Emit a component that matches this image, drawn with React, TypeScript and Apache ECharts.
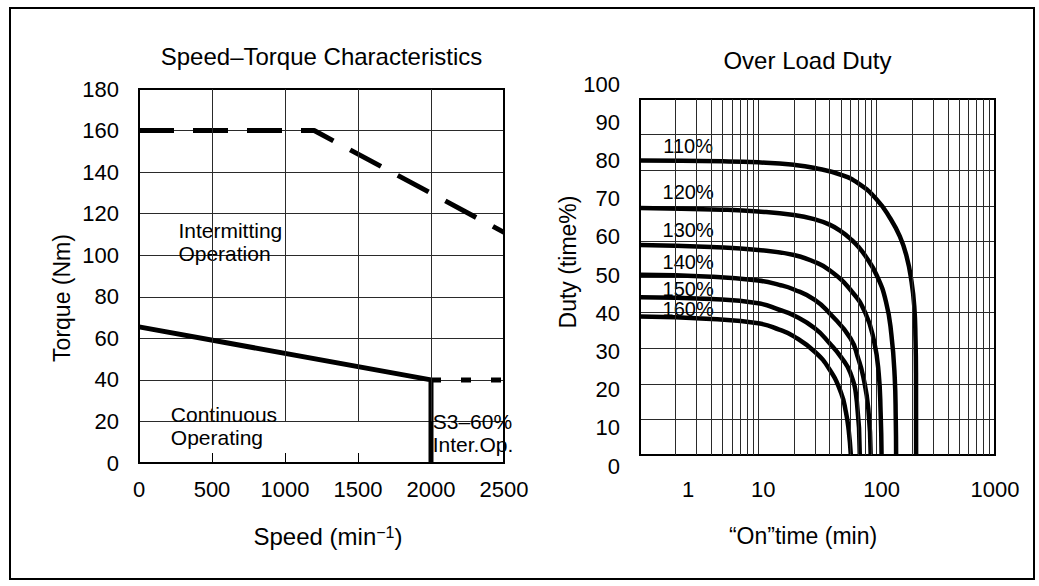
import React, { useEffect, useRef } from 'react';
import * as echarts from 'echarts';

const FONT = "'Liberation Sans', Arial, Helvetica, sans-serif";

// ---------- Speed–Torque Characteristics ----------
const speedMin = 0;
const speedMax = 2500;
const speedStep = 500;
const torqueMin = 0;
const torqueMax = 180;
const torqueStep = 20;

const intermittentSpeed = [0, 1200, 2500];
const intermittentTorque = [160, 160, 111];
const continuousSpeed = [0, 2000, 2000];
const continuousTorque = [65.5, 40, 0];
const s3Speed = [2000, 2500];
const s3Torque = [40, 40];

const speedGridValues = [500, 1000, 1500, 2000];
const speedGridFromTorque = 20;

const regionTexts = ['Intermitting\nOperation', 'Continuous\nOperating', 'S3–60%\nInter.Op.'];
const regionSpeed = [270, 218, 2012];
const regionTorque = [106.6, 17.6, 14.4];

// ---------- Over Load Duty ----------
const onTimeMin = 1;
const onTimeMax = 1000;
const dutyMin = 0;
const dutyMax = 100;
const dutyStep = 10;

const curveNames = ['110%', '120%', '130%', '140%', '150%', '160%'];
const onTime110 = [1, 5, 10, 20, 30, 50, 70, 100, 130, 157, 179, 196, 208, 213, 215, 215.5];
const duty110 = [82.7, 82.5, 82.2, 81.5, 80.6, 78.7, 76.3, 71.8, 66.5, 61.4, 55.8, 49.2, 41.7, 32.3, 23, 0];
const onTime120 = [1, 5, 10, 20, 30, 40, 50, 60, 70, 80, 100, 120, 133, 142, 145, 146];
const duty120 = [69.4, 68.9, 68.4, 67.4, 66.2, 64.7, 62.8, 60.7, 58.5, 56, 50.5, 43, 34, 22, 10, 0];
const onTime130 = [1, 4, 10, 20, 30, 40, 60, 80, 95, 104, 108, 110];
const duty130 = [59, 58.4, 57.6, 56.2, 54.2, 51.9, 46.4, 40, 32, 23, 12, 0];
const onTime140 = [1, 4, 10, 15, 20, 30, 40, 60, 70, 77, 85, 89];
const duty140 = [50.6, 50.1, 49, 47.8, 46.5, 43.6, 39.8, 32.8, 27, 22, 13, 0];
const onTime150 = [1, 4, 10, 15, 20, 30, 40, 50, 60, 68, 72];
const duty150 = [44.3, 43.8, 42.6, 40.8, 39.2, 35.6, 31.4, 27.5, 23, 15, 0];
const onTime160 = [1, 4, 10, 15, 20, 30, 40, 50, 55, 58, 60.5];
const duty160 = [38.9, 38.2, 37, 35.2, 33.3, 29, 24, 17.5, 12, 7, 0];

const curveOnTimes = [onTime110, onTime120, onTime130, onTime140, onTime150, onTime160];
const curveDuties = [duty110, duty120, duty130, duty140, duty150, duty160];

const curveLabelOnTime = [2.55, 2.55, 2.55, 2.55, 2.55, 2.55];
const curveLabelDuty = [86.7, 74.0, 63.3, 54.3, 46.6, 41.0];

const onTimeDecades = [1, 10, 100];
const onTimeMinorSteps = [2, 3, 4, 5, 6, 7, 8, 9];

const zip = (xs: number[], ys: number[]) => xs.map((x, i) => [x, ys[i]]);

const gridLineColor = '#2a2a2a';

export default function App() {
  const ref = useRef<HTMLDivElement>(null);

  useEffect(() => {
    if (!ref.current) return;
    const chart = echarts.init(ref.current, undefined, { renderer: 'svg' });

    const minorLines: number[] = [];
    onTimeDecades.forEach((d) => onTimeMinorSteps.forEach((s) => minorLines.push(d * s)));

    const textLabel = (extra: any) => ({
      show: true,
      formatter: '{b}',
      color: '#000',
      opacity: 1,
      fontFamily: FONT,
      textBorderWidth: 0,
      textShadowBlur: 0,
      ...extra,
    });

    const option: any = {
      animation: false,
      backgroundColor: '#fff',
      textStyle: { fontFamily: FONT, color: '#000' },
      title: [
        {
          text: 'Speed–Torque Characteristics',
          left: 321.5,
          top: 44,
          textAlign: 'center',
          padding: 0,
          textStyle: { fontSize: 24, fontWeight: 'normal', color: '#000', fontFamily: FONT },
        },
        {
          text: 'Over Load Duty',
          left: 807.5,
          top: 48,
          textAlign: 'center',
          padding: 0,
          textStyle: { fontSize: 24, fontWeight: 'normal', color: '#000', fontFamily: FONT },
        },
      ],
      graphic: [
        {
          type: 'rect',
          shape: { x: 10, y: 8, width: 1024, height: 571 },
          style: { fill: 'none', stroke: '#000', lineWidth: 2 },
          silent: true,
        },
      ],
      grid: [
        { left: 139, top: 89, width: 365, height: 374, show: true, borderColor: '#000', borderWidth: 2, backgroundColor: 'transparent', z: 3, outerBoundsMode: 'none' },
        { left: 640, top: 99, width: 355, height: 356, show: true, borderColor: '#000', borderWidth: 2, backgroundColor: 'transparent', z: 3, outerBoundsMode: 'none' },
        { left: 640, top: 84, width: 355, height: 382, show: false, outerBoundsMode: 'none' },
      ],
      xAxis: [
        {
          gridIndex: 0,
          type: 'value',
          min: speedMin,
          max: speedMax,
          interval: speedStep,
          axisLine: { show: false },
          axisTick: { show: true, inside: true, length: 10, lineStyle: { color: '#000', width: 1 } },
          splitLine: { show: false },
          axisLabel: {
            fontSize: 22,
            color: '#000',
            margin: 15,
            fontFamily: FONT,
            formatter: (v: number) => String(Math.round(v)),
          },
          name: 'Speed (min{sup|−1})',
          nameLocation: 'middle',
          nameGap: 61,
          nameTextStyle: {
            fontSize: 24,
            color: '#000',
            fontFamily: FONT,
            padding: [0, 0, 0, 13],
            rich: { sup: { fontSize: 16, verticalAlign: 'top', color: '#000', fontFamily: FONT } },
          },
        },
        {
          gridIndex: 1,
          type: 'log',
          logBase: 10,
          min: onTimeMin,
          max: onTimeMax,
          splitNumber: 3,
          axisLine: { show: false },
          axisTick: { show: false },
          splitLine: { show: true, lineStyle: { color: gridLineColor, width: 1 } },
          axisLabel: {
            fontSize: 22,
            color: '#000',
            margin: 23,
            fontFamily: FONT,
            interval: 0,
            showMinLabel: true,
            showMaxLabel: true,
            formatter: (v: number) => {
              const r = Math.round(v);
              if (r === 1) return `{first|${r}}`;
              if (r === 1000) return `{last|${r}}`;
              return `{mid|${r}}`;
            },
            rich: {
              first: { fontSize: 22, fontFamily: FONT, color: '#000', padding: [0, 0, 0, 96] },
              mid: { fontSize: 22, fontFamily: FONT, color: '#000', padding: [0, 0, 0, 10] },
              last: { fontSize: 22, fontFamily: FONT, color: '#000' },
            },
          },
          name: '“On”time (min)',
          nameLocation: 'middle',
          nameGap: 69,
          nameTextStyle: { fontSize: 23, color: '#000', fontFamily: FONT, padding: [0, 29, 0, 0] },
        },
        { gridIndex: 2, type: 'value', min: 0, max: 1, show: false },
      ],
      yAxis: [
        {
          gridIndex: 0,
          type: 'value',
          min: torqueMin,
          max: torqueMax,
          interval: torqueStep,
          axisLine: { show: false },
          axisTick: { show: false },
          splitLine: { show: true, lineStyle: { color: gridLineColor, width: 1 } },
          axisLabel: { fontSize: 22, color: '#000', margin: 20, fontFamily: FONT, padding: [8, 0, 0, 0] },
          name: 'Torque (Nm)',
          nameLocation: 'middle',
          nameRotate: 90,
          nameGap: 66,
          nameTextStyle: { fontSize: 23, color: '#000', fontFamily: FONT, padding: [0, 44, 0, 0] },
        },
        {
          gridIndex: 1,
          type: 'value',
          min: dutyMin,
          max: dutyMax,
          interval: dutyStep,
          axisLine: { show: false },
          axisTick: { show: false },
          axisLabel: { show: false },
          splitLine: { show: true, lineStyle: { color: gridLineColor, width: 1 } },
        },
        {
          gridIndex: 2,
          type: 'value',
          min: dutyMin,
          max: dutyMax,
          interval: dutyStep,
          axisLine: { show: false },
          axisTick: { show: false },
          splitLine: { show: false },
          axisLabel: { fontSize: 22, color: '#000', margin: 20, fontFamily: FONT },
          name: 'Duty (time%)',
          nameLocation: 'middle',
          nameRotate: 90,
          nameGap: 56,
          nameTextStyle: { fontSize: 23, color: '#000', fontFamily: FONT, padding: [0, 0, 0, 26] },
        },
      ],
      series: [
        // vertical grid lines of the speed-torque chart (from 20 Nm upward)
        {
          type: 'line',
          xAxisIndex: 0,
          yAxisIndex: 0,
          data: [],
          silent: true,
          markLine: {
            silent: true,
            symbol: ['none', 'none'],
            label: { show: false },
            lineStyle: { color: gridLineColor, width: 1, type: 'solid' },
            emphasis: { disabled: true },
            data: speedGridValues.map((x) => [
              { coord: [x, speedGridFromTorque] },
              { coord: [x, torqueMax] },
            ]),
          },
        },
        {
          name: 'Intermitting Operation',
          type: 'line',
          xAxisIndex: 0,
          yAxisIndex: 0,
          data: zip(intermittentSpeed, intermittentTorque),
          showSymbol: false,
          silent: true,
          lineStyle: { color: '#000', width: 5, type: [35, 19] },
        },
        {
          name: 'Continuous Operating',
          type: 'line',
          xAxisIndex: 0,
          yAxisIndex: 0,
          data: zip(continuousSpeed, continuousTorque),
          showSymbol: false,
          silent: true,
          lineStyle: { color: '#000', width: 5, type: 'solid' },
        },
        {
          name: 'S3-60%',
          type: 'line',
          xAxisIndex: 0,
          yAxisIndex: 0,
          data: zip(s3Speed, s3Torque),
          showSymbol: false,
          silent: true,
          lineStyle: { color: '#000', width: 5, type: [10, 20] },
        },
        {
          type: 'scatter',
          xAxisIndex: 0,
          yAxisIndex: 0,
          silent: true,
          symbolSize: 0,
          itemStyle: { color: '#000', opacity: 1 },
          data: regionTexts.map((t, i) => ({ name: t, value: [regionSpeed[i], regionTorque[i]] })),
          label: textLabel({ position: 'right', distance: 0, fontSize: 21, lineHeight: 23, align: 'left' }),
        },
        // minor log grid lines of the duty chart
        {
          type: 'line',
          xAxisIndex: 1,
          yAxisIndex: 1,
          data: [],
          silent: true,
          markLine: {
            silent: true,
            symbol: ['none', 'none'],
            label: { show: false },
            lineStyle: { color: gridLineColor, width: 1, type: 'solid' },
            emphasis: { disabled: true },
            data: minorLines.map((x) => ({ xAxis: x })),
          },
        },
        ...curveNames.map((n, i) => ({
          name: n,
          type: 'line',
          xAxisIndex: 1,
          yAxisIndex: 1,
          data: zip(curveOnTimes[i], curveDuties[i]),
          showSymbol: false,
          silent: true,
          smooth: 0.5,
          lineStyle: { color: '#000', width: 4.5 },
        })),
        {
          type: 'scatter',
          xAxisIndex: 1,
          yAxisIndex: 1,
          silent: true,
          symbolSize: 0,
          itemStyle: { color: '#000', opacity: 1 },
          data: curveNames.map((n, i) => ({ name: n, value: [curveLabelOnTime[i], curveLabelDuty[i]] })),
          label: textLabel({ position: 'inside', fontSize: 20 }),
        },
      ],
    };

    chart.setOption(option);
    return () => chart.dispose();
  }, []);

  return (
    <div
      ref={ref}
      style={{ position: 'fixed', left: 0, top: 0, width: 1039, height: 586, background: '#fff' }}
    />
  );
}
